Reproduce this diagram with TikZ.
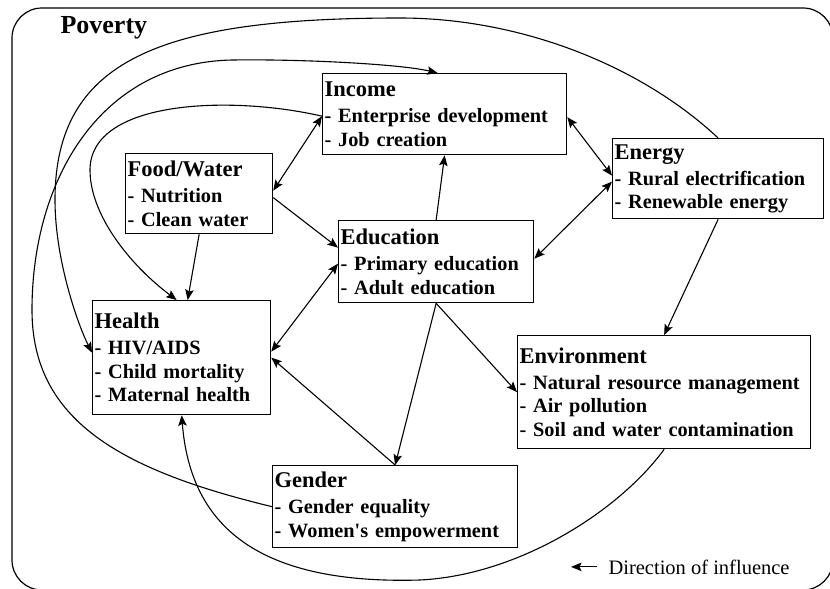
\documentclass[tikz,border=0pt]{standalone}
\usepackage{fontspec}
\setmainfont{Liberation Serif}
\usetikzlibrary{arrows.meta}

\newcommand{\itemfont}{\fontsize{20.3}{23.5}\selectfont\bfseries}
\newcommand{\headfont}{\fontsize{22.5}{26}\selectfont\bfseries}
\newcommand{\head}[1]{{\headfont #1}\\[2.5pt]}

\tikzset{
  tip/.tip={Stealth[length=10.5pt,width=8.5pt,inset=2pt]},
  topic/.style={draw, line width=1.3pt, anchor=north west, align=left,
    inner xsep=2pt, inner ysep=0pt, font=\itemfont},
  link/.style={line width=1.1pt, -tip},
  both/.style={line width=1.1pt, tip-tip},
}

\begin{document}
\begin{tikzpicture}[x=1pt, y=-1pt]
  \useasboundingbox (0,0) rectangle (830,589);
  % frame
  \draw[line width=1.2pt, rounded corners=30pt] (12,8) rectangle (833,590);
  \node[anchor=base west, font=\fontsize{26}{30}\selectfont\bfseries] (poverty) at (57,33) {Poverty};

  % topics
  \node[topic, text width=240pt, minimum height=81pt] (income) at (322,73)
    {\head{Income}- Enterprise development\\- Job creation};
  \node[topic, text width=143pt, minimum height=80pt] (food) at (125,153)
    {\head{Food/Water}- Nutrition\\- Clean water};
  \node[topic, text width=191pt, minimum height=82pt] (educ) at (338,220)
    {\head{Education}- Primary education\\- Adult education};
  \node[topic, text width=207pt, minimum height=80pt] (energy) at (612,138)
    {\head{Energy}- Rural electrification\\- Renewable energy};
  \node[topic, text width=289pt, minimum height=113pt] (environ) at (517,335)
    {\head{Environment}- Natural resource management\\- Air pollution\\- Soil and water contamination};
  \node[topic, text width=174pt, minimum height=114pt] (health) at (92,300)
    {\head{Health}- HIV/AIDS\\- Child mortality\\- Maternal health};
  \node[topic, text width=241pt, minimum height=82pt] (gender) at (272,465)
    {\head{Gender}- Gender equality\\- Women\textquotesingle s empowerment};

  % straight links
  \draw[both] ([yshift=-2pt]income.west) -- ([yshift=3pt]food.east);
  \draw[link] ([yshift=-4pt]food.east) -- ([yshift=14pt]educ.west);
  \draw[link] (food.south) -- ([xshift=6pt]health.north);
  \draw[both] ([yshift=-2pt]educ.west) -- ([yshift=6pt]health.east);
  \draw[link] (educ.north) -- (income.south);
  \draw[both] ([yshift=-3pt]income.east) -- ([yshift=3pt]energy.west);
  \draw[both] ([yshift=-3pt]energy.west) -- ([yshift=3pt]educ.east);
  \draw[link] (energy.south) -- (environ.north);
  \draw[link] (educ.south) -- (environ.west);
  \draw[link] (educ.south) -- (gender.north);
  \draw[link] (gender.north) -- (health.east);

  % curved links
  \draw[link] (energy.north) .. controls (640,65) and (520,18) .. (400,18)
    .. controls (160,18) and (55,60) .. (55,200)
    .. controls (55,260) and (78,325) .. ([yshift=5pt]health.west);
  \draw[link] (gender.west) .. controls (120,470) and (32,420) .. (32,310)
    .. controls (32,180) and (100,62) .. (233,60)
    .. controls (300,59) and (400,64) .. ([xshift=-7pt]income.north);
  \draw[link] ([yshift=-2pt]income.west) .. controls (230,95) and (90,100) .. (90,170)
    .. controls (90,215) and (130,265) .. ([xshift=-5pt]health.north);
  \draw[link] (environ.south) .. controls (620,510) and (520,575) .. (420,580)
    .. controls (250,585) and (190,520) .. (health.south);

  % legend
  \node[anchor=base west, font=\fontsize{20.5}{24}\selectfont] (legend) at (605,574) {Direction of influence};
  \draw[link] ([xshift=-8pt]legend.west) -- ++(-26,0);
\end{tikzpicture}
\end{document}
